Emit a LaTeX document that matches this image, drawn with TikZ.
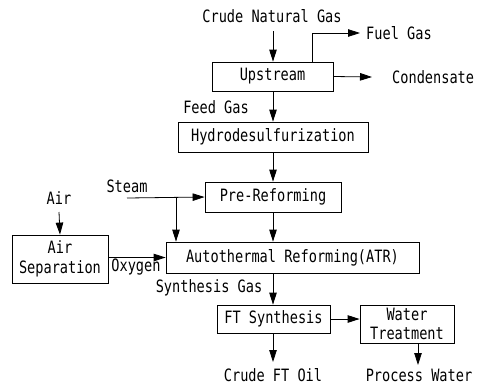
\documentclass[tikz,border=0pt]{standalone}
\usepackage{fontspec}
\setmainfont[FakeStretch=0.8]{DejaVu Sans Mono}
\usetikzlibrary{arrows.meta}
\begin{document}
\begin{tikzpicture}[x=1pt,y=-1pt,
  font=\fontsize{17}{19.5}\selectfont,
  proc/.style={draw,line width=0.8pt,rectangle,inner sep=0pt,align=center},
  lbl/.style={inner sep=0pt,align=center},
  flow/.style={line width=0.8pt,-{Triangle[length=12pt,width=7.5pt]}},
  pipe/.style={line width=0.8pt}]
\useasboundingbox (0,0) rectangle (479,384);
% boxes
\node[proc,minimum width=121pt,minimum height=29pt] (up) at (272.5,76.5) {Upstream};
\node[proc,minimum width=190pt,minimum height=30pt] (hds) at (273,137) {Hydrodesulfurization};
\node[proc,minimum width=136pt,minimum height=30pt] (pre) at (273,197) {Pre-Reforming};
\node[proc,minimum width=253pt,minimum height=31pt] (atr) at (292.5,257.5) {Autothermal Reforming(ATR)};
\node[proc,minimum width=96pt,minimum height=48pt] (asu) at (60,259) {Air\\Separation};
\node[proc,minimum width=113pt,minimum height=28pt] (ft) at (273.5,319) {FT Synthesis};
\node[proc,minimum width=94pt,minimum height=38pt] (wt) at (407,324) {Water\\Treatment};
% labels
\node[lbl] (cng) at (272,16) {Crude Natural Gas};
\node[lbl,anchor=west] (fuel) at (366,33) {Fuel Gas};
\node[lbl,anchor=west] (cond) at (392,77) {Condensate};
\node[lbl] (feed) at (216,107) {Feed Gas};
\node[lbl] (steam) at (127,186) {Steam};
\node[lbl] (air) at (59,198) {Air};
\node[lbl] (oxy) at (136,267) {Oxygen};
\node[lbl] (syn) at (209,288) {Synthesis Gas};
\node[lbl] (oil) at (273,375) {Crude FT Oil};
\node[lbl] (pw) at (419,375) {Process Water};
% coordinates
\coordinate (cngend) at (273,31);
\coordinate (fuelstart) at (312,62);
\coordinate (fuelcorner) at (312,33);
\coordinate (fueltip) at (360,33);
\coordinate (condtip) at (372,77);
\coordinate (steamstart) at (127,198);
\coordinate (steamjn) at (176,198);
\coordinate (airstart) at (59,212);
\coordinate (oiltip) at (273,362);
\coordinate (wtout) at (418,343);
\coordinate (pwtip) at (418,365);
% connectors
\draw[flow] (cngend) -- (cngend |- up.north);
\draw[flow] (fuelstart) -- (fuelcorner) -- (fueltip);
\draw[flow] (up.east) -- (condtip);
\draw[flow] (up.south -| cngend) -- (cngend |- hds.north);
\draw[flow] (hds.south -| cngend) -- (cngend |- pre.north);
\draw[flow] (steamstart) -- (pre.west);
\draw[flow] (steamjn) -- (steamjn |- atr.north);
\draw[flow] (airstart) -- (asu.north);
\draw[flow] (asu.east |- atr.west) -- (atr.west);
\draw[flow] (pre.south -| cngend) -- (cngend |- atr.north);
\draw[flow] (atr.south -| cngend) -- (cngend |- ft.north);
\draw[flow] (ft.east) -- (wt.west |- ft.east);
\draw[flow] (ft.south -| cngend) -- (oiltip);
\draw[flow] (wtout) -- (pwtip);
\end{tikzpicture}
\end{document}
